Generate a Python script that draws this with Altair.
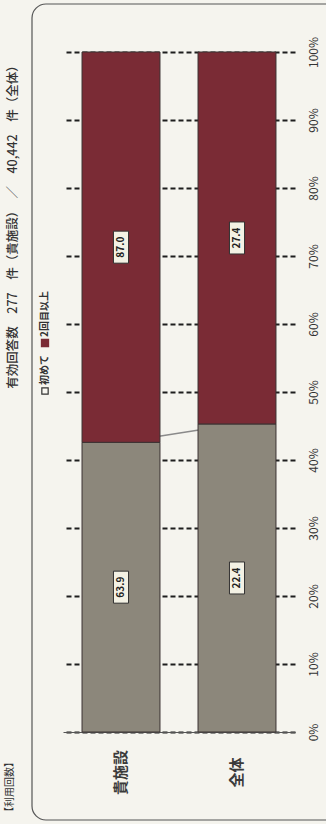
import altair as alt
import pandas as pd

categories = ["貴施設", "全体"]
series_names = ["初めて", "2回目以上"]
first_time = [42.6, 45.3]
repeat = [57.4, 54.7]
label_first = ["63.9", "22.4"]
label_repeat = ["87.0", "27.4"]
tick_values = [0, 10, 20, 30, 40, 50, 60, 70, 80, 90, 100]
title_text = "有効回答数　277　件（貴施設）　／　40,442　件（全体）"
corner_text = "【利用回数】"

rows = []
for i, c in enumerate(categories):
    rows.append(dict(cat=c, series=series_names[0], start=0, end=first_time[i], label=label_first[i]))
    rows.append(dict(cat=c, series=series_names[1], start=first_time[i],
                     end=first_time[i] + repeat[i], label=label_repeat[i]))
df = pd.DataFrame(rows)

conn = pd.DataFrame({"c1": [categories[0]], "c2": [categories[1]],
                     "v1": [first_time[0]], "v2": [first_time[1]]})
one = pd.DataFrame({"a": [0]})

FONT = "Noto Sans CJK JP"
xscale = alt.Scale(domain=categories, paddingInner=0.328, paddingOuter=0.164)
yscale = alt.Scale(domain=[0, 100], nice=False)

xaxis = alt.Axis(orient="bottom", labelAngle=270, labelAlign="center", labelBaseline="middle",
                 labelPadding=40, ticks=False, tickSize=0, domain=True, domainColor="#555",
                 domainWidth=1, labelFont=FONT, labelFontSize=15, labelFontWeight="bold",
                 labelColor="#3a3a3a", title=None, grid=False)
yaxis = alt.Axis(orient="right", values=tick_values, labelExpr="datum.value + '%'",
                 labelAngle=270, labelAlign="center", labelBaseline="middle", labelPadding=18,
                 ticks=False, tickSize=0, domain=False, grid=True, gridDash=[5, 3],
                 gridColor="#1e1e1e", gridWidth=1.8, labelFont=FONT, labelFontSize=12,
                 labelColor="#333", title=None)

frame = alt.Chart(one).mark_rect(fill="transparent", stroke="#555", strokeWidth=1.2,
                                  cornerRadius=14).encode(
    x=alt.value(-31), x2=alt.value(300), y=alt.value(-48), y2=alt.value(768))

connector = alt.Chart(conn).mark_rule(color="#8a8a8a", strokeWidth=1.5).encode(
    x=alt.X("c1:N", scale=xscale, axis=xaxis),
    x2="c2:N",
    y=alt.Y("v1:Q", scale=yscale, axis=yaxis),
    y2="v2:Q")

bars = alt.Chart(df).mark_bar(stroke="#3a3232", strokeWidth=1).encode(
    x=alt.X("cat:N", scale=xscale, axis=xaxis),
    y=alt.Y("start:Q", scale=yscale, axis=yaxis),
    y2="end:Q",
    color=alt.Color("series:N", scale=alt.Scale(domain=series_names, range=["#8c877b", "#7a2b35"]),
                    legend=None))

boxes = alt.Chart(df).transform_calculate(mid="(datum.start + datum.end) / 2").mark_point(
    shape="M-0.47,-1L0.47,-1L0.47,1L-0.47,1Z", size=1024, filled=True, fill="#f3f1e4",
    stroke="#333", strokeWidth=1, opacity=1).encode(
    x=alt.X("cat:N", scale=xscale), y=alt.Y("mid:Q", scale=yscale))

labels = alt.Chart(df).transform_calculate(mid="(datum.start + datum.end) / 2").mark_text(
    angle=270, align="center", baseline="middle", font=FONT, fontSize=10, fontWeight="bold",
    color="#222").encode(
    x=alt.X("cat:N", scale=xscale), y=alt.Y("mid:Q", scale=yscale), text="label:N")

title = alt.Chart(one).mark_text(angle=270, align="center", baseline="middle", font=FONT,
                                 fontSize=12.5, fontWeight=500, color="#333").encode(
    x=alt.value(-50), y=alt.value(172), text=alt.value(title_text))

corner = alt.Chart(one).mark_text(angle=270, align="center", baseline="middle", font=FONT,
                                  fontSize=10, color="#333").encode(
    x=alt.value(-53), y=alt.value(735), text=alt.value(corner_text))

leg_sym1 = alt.Chart(one).mark_point(shape="square", size=40, filled=True, fill="#f8f7f1",
                                     stroke="#333", strokeWidth=1.2, opacity=1).encode(
    x=alt.value(-18), y=alt.value(339))
leg_txt1 = alt.Chart(one).mark_text(angle=270, align="left", baseline="middle", font=FONT,
                                    fontSize=10, fontWeight="bold", color="#333").encode(
    x=alt.value(-18), y=alt.value(333), text=alt.value(series_names[0]))
leg_sym2 = alt.Chart(one).mark_point(shape="square", size=40, filled=True, fill="#7a2b35",
                                     stroke="#7a2b35", opacity=1).encode(
    x=alt.value(-18), y=alt.value(291))
leg_txt2 = alt.Chart(one).mark_text(angle=270, align="left", baseline="middle", font=FONT,
                                    fontSize=10, fontWeight="bold", color="#333").encode(
    x=alt.value(-18), y=alt.value(285), text=alt.value(series_names[1]))

chart = alt.layer(frame, connector, bars, boxes, labels, title, corner,
                  leg_sym1, leg_txt1, leg_sym2, leg_txt2).properties(
    width=232, height=680,
    autosize=alt.AutoSizeParams(type="none"),
    padding={"left": 63, "top": 52, "right": 31, "bottom": 92},
    background="#f5f4ee",
).configure_view(stroke=None)

chart.save("out.html", embed_options={"renderer": "svg", "actions": False})
